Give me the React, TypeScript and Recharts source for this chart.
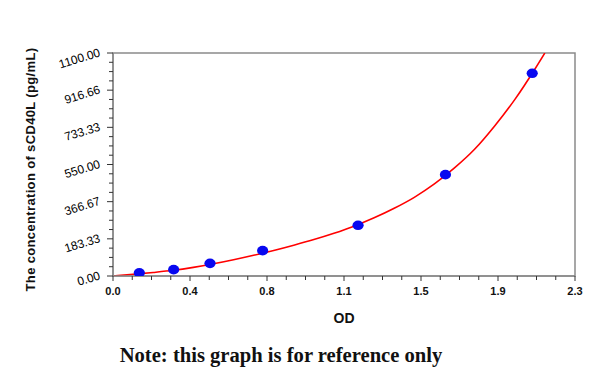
import React from 'react'
import { ComposedChart, Line, Scatter, XAxis, YAxis, ReferenceArea } from 'recharts'

// standards
const standardOD = [0.131, 0.302, 0.483, 0.745, 1.22, 1.655, 2.087]
const standardConc = [15.63, 31.25, 62.5, 125, 250, 500, 1000]

// fitted curve
const curveOD = [0, 0.1, 0.2, 0.3, 0.4, 0.5, 0.6, 0.7, 0.8, 0.9, 1.0, 1.1, 1.2, 1.3, 1.4, 1.5, 1.6, 1.7, 1.8, 1.9, 2.0, 2.1, 2.15]
const curveConc = [0, 8.5, 17.5, 28, 42.5, 60, 80, 102, 126, 152, 180, 211, 246, 287, 334, 388, 454, 533, 625, 740, 870, 1020, 1100]

const xTickLabels = ['0.0', '0.4', '0.8', '1.1', '1.5', '1.9', '2.3']
const yTickLabels = ['0.00', '183.33', '366.67', '550.00', '733.33', '916.66', '1100.00']

const xMax = 2.3
const yMax = 1100
const minorPerMajor = 4

const xTicks: number[] = []
const yTicks: number[] = []
const steps = (xTickLabels.length - 1) * minorPerMajor
for (let i = 0; i <= steps; i++) {
  xTicks.push((i * xMax) / steps)
  yTicks.push((i * yMax) / steps)
}

const points = standardOD.map((od, i) => ({ od, conc: standardConc[i] }))
const curve = curveOD.map((od, i) => ({ od, conc: curveConc[i] }))

const axisColor = '#8a8a8a'
const sans = '"Liberation Sans", Arial, sans-serif'

const XTick = (props: any) => {
  const { x, y, payload } = props
  const idx = xTicks.findIndex(t => Math.abs(t - payload.value) < 1e-9)
  const major = idx % minorPerMajor === 0
  return (
    <g>
      <line x1={x} x2={x} y1={y} y2={y + (major ? 5 : 4)} stroke="#333" strokeWidth={1} />
      {major && (
        <text x={x} y={y + 19} textAnchor="middle" fontFamily={sans} fontWeight="bold" fontSize={11} fill="#111">
          {xTickLabels[idx / minorPerMajor]}
        </text>
      )}
    </g>
  )
}

const YTick = (props: any) => {
  const { x, y, payload } = props
  const idx = yTicks.findIndex(t => Math.abs(t - payload.value) < 1e-9)
  const major = idx % minorPerMajor === 0
  const tx = x - 12
  const ty = y + 3
  return (
    <g>
      <line x1={x - (major ? 6 : 4)} x2={x} y1={y} y2={y} stroke="#333" strokeWidth={1} />
      {major && (
        <text x={tx} y={ty} textAnchor="end" fontFamily={sans} fontSize={12} fill="#000" transform={`rotate(-17 ${tx} ${ty})`}>
          {yTickLabels[idx / minorPerMajor]}
        </text>
      )}
    </g>
  )
}

const Dot = (props: any) => <ellipse cx={props.cx} cy={props.cy} rx={5.6} ry={4.8} fill="#0808f0" />

const YTitle = (props: any) => {
  const vb = props.viewBox || { y: 53, height: 223 }
  const cx = 30
  const cy = vb.y + vb.height / 2 + 5
  return (
    <text x={cx} y={cy} textAnchor="middle" dominantBaseline="central" fontFamily={sans} fontWeight="bold" fontSize={13} letterSpacing={0.35} fill="#111" transform={`rotate(-90 ${cx} ${cy})`}>
      The concentration of  sCD40L (pg/mL)
    </text>
  )
}

export default function App() {
  return (
    <div style={{ position: 'absolute', left: 0, top: 0, width: 600, height: 378, background: '#fff' }}>
      <ComposedChart width={600} height={378} margin={{ top: 53, right: 25, bottom: 52, left: 0 }}>
        <XAxis
          type="number"
          dataKey="od"
          domain={[0, xMax]}
          ticks={xTicks}
          interval={0}
          tick={<XTick />}
          tickLine={false}
          tickSize={0}
          tickMargin={0}
          height={50}
          axisLine={{ stroke: axisColor, strokeWidth: 1.5 }}
          label={{ value: 'OD', position: 'insideBottom', offset: 3, fill: '#111', fontFamily: sans, fontWeight: 'bold', fontSize: 14 }}
        />
        <YAxis
          type="number"
          dataKey="conc"
          domain={[0, yMax]}
          allowDataOverflow
          ticks={yTicks}
          interval={0}
          tick={<YTick />}
          tickLine={false}
          tickSize={0}
          tickMargin={0}
          width={113}
          axisLine={{ stroke: axisColor, strokeWidth: 1.5 }}
          label={<YTitle />}
        />
        <ReferenceArea x1={0} x2={xMax} y1={0} y2={yMax} fill="none" stroke={axisColor} strokeWidth={1.5} ifOverflow="visible" />
        <Scatter data={points} dataKey="conc" shape={<Dot />} isAnimationActive={false} />
        <Line data={curve} dataKey="conc" type="monotone" stroke="#ff0000" strokeWidth={1.6} dot={false} activeDot={false} isAnimationActive={false} />
      </ComposedChart>
      <div style={{ position: 'absolute', left: 0, top: 344, width: 562, textAlign: 'center', fontFamily: '"Liberation Serif", "Times New Roman", serif', fontWeight: 'bold', fontSize: 20.6, color: '#111' }}>
        Note: this graph is for reference only
      </div>
    </div>
  )
}
